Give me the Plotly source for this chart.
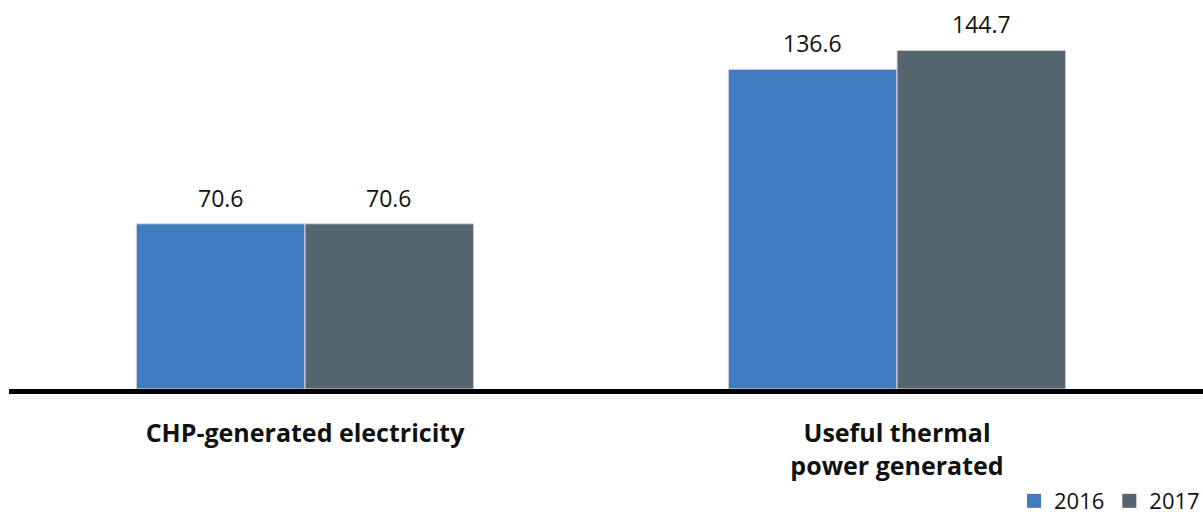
import plotly.graph_objects as go

categories = ["CHP-generated electricity", "Useful thermal<br>power generated"]
series_names = ["2016", "2017"]
values_2016 = [70.6, 136.6]
values_2017 = [70.6, 144.7]
colors = ["#3F7BBE", "#56666E"]

W, H = 1203, 512
ml, mr, mt, mb = 9, 0, 0, 123
bargap = 0.43
ymax = 166.2
FONT = "Open Sans"

fig = go.Figure()
xs = [0, 1]
for name, vals, col in zip(series_names, [values_2016, values_2017], colors):
    fig.add_trace(go.Bar(
        x=xs, y=vals, name=name, showlegend=False,
        marker=dict(color=col, line=dict(color="#d8dde2", width=1)),
        hoverinfo="skip",
    ))
# legend entries with larger square swatches
for name, col in zip(series_names, colors):
    fig.add_trace(go.Scatter(
        x=[None], y=[None], mode="markers", name=name,
        marker=dict(symbol="square", size=14, color=col),
        hoverinfo="skip",
    ))

w = (1 - bargap) / 2
for k, vals in enumerate([values_2016, values_2017]):
    off = -w / 2 if k == 0 else w / 2
    for i, v in enumerate(vals):
        fig.add_annotation(
            x=xs[i] + off, y=v, xref="x", yref="y",
            text=f"{v:.1f}", showarrow=False,
            yanchor="bottom", yshift=8,
            font=dict(family=FONT, size=23, color="#111111"),
        )

fig.update_layout(
    width=W, height=H,
    margin=dict(l=ml, r=mr, t=mt, b=mb, autoexpand=False),
    paper_bgcolor="white", plot_bgcolor="white",
    barmode="group", bargap=bargap, bargroupgap=0,
    showlegend=True,
    legend=dict(
        orientation="h", x=(1014 - ml) / (W - ml - mr), xanchor="left",
        y=-0.288, yanchor="middle",
        font=dict(family=FONT, size=22, color="#111111"),
        itemwidth=30, tracegroupgap=0, bgcolor="rgba(0,0,0,0)",
    ),
    xaxis=dict(
        range=[-0.5, 1.5 + 10 / 592],
        tickmode="array", tickvals=xs,
        ticktext=["<b>" + c.replace("<br>", "</b><br><b>") + "</b>" for c in categories],
        showline=True, linecolor="black", linewidth=5,
        ticks="", showgrid=False, zeroline=False,
        tickfont=dict(family=FONT, size=25, color="#111111"),
        ticklabelstandoff=18,
        fixedrange=True,
    ),
    yaxis=dict(
        range=[0, ymax], visible=False, showgrid=False, zeroline=False,
        fixedrange=True,
    ),
)

fig.write_html("out.html")
